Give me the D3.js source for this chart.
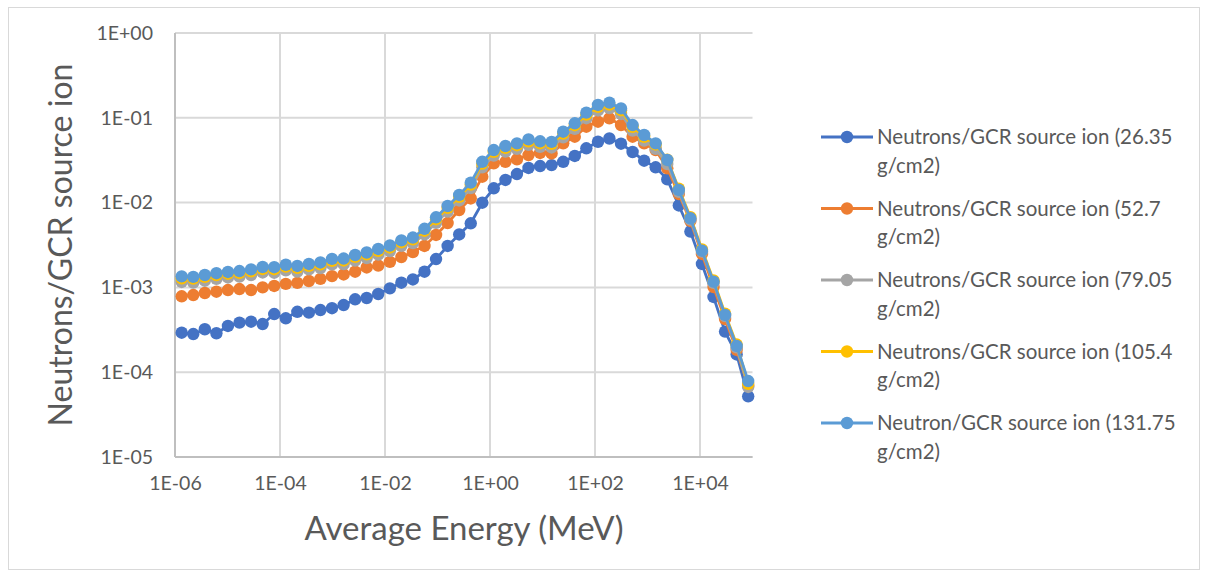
<!DOCTYPE html>
<html>
<head>
<meta charset="utf-8">
<script src="https://cdn.jsdelivr.net/npm/d3@7"></script>
<style>
  body { margin: 0; background: #fff; }
  text { font-family: Lato, "Open Sans", sans-serif; fill: #595959; }
</style>
</head>
<body>
<svg id="chart" width="1209" height="578"></svg>
<script>
// average energy of each bin (MeV)
var energy = [1.34e-6, 2.23e-6, 3.70e-6, 6.15e-6, 1.02e-5, 1.69e-5, 2.81e-5, 4.67e-5, 7.76e-5, 1.29e-4,
              2.14e-4, 3.55e-4, 5.89e-4, 9.79e-4, 1.63e-3, 2.70e-3, 4.48e-3, 7.44e-3, 1.24e-2, 2.05e-2,
              3.40e-2, 5.65e-2, 9.38e-2, 0.156, 0.259, 0.430, 0.713, 1.18, 1.97, 3.26,
              5.42, 9.00, 14.9, 24.8, 41.2, 68.4, 114, 188, 313, 520,
              863, 1430, 2380, 3950, 6560, 10900, 18100, 30000, 49900, 82800];

var n26 = [2.92e-4, 2.82e-4, 3.21e-4, 2.88e-4, 3.51e-4, 3.84e-4, 3.94e-4, 3.70e-4, 4.85e-4, 4.32e-4,
           5.16e-4, 5.04e-4, 5.41e-4, 5.68e-4, 6.19e-4, 7.24e-4, 7.50e-4, 8.36e-4, 9.75e-4, 1.135e-3,
           1.24e-3, 1.53e-3, 2.16e-3, 3.08e-3, 4.21e-3, 5.70e-3, 9.97e-3, 1.476e-2, 1.85e-2, 2.17e-2,
           2.56e-2, 2.70e-2, 2.77e-2, 3.03e-2, 3.55e-2, 4.37e-2, 5.22e-2, 5.70e-2, 4.95e-2, 3.95e-2,
           3.12e-2, 2.61e-2, 1.88e-2, 9.25e-3, 4.56e-3, 1.89e-3, 7.71e-4, 3.01e-4, 1.62e-4, 5.20e-5];

var n52 = [7.85e-4, 8.13e-4, 8.59e-4, 8.89e-4, 9.31e-4, 9.57e-4, 9.31e-4, 1.00e-3, 1.04e-3, 1.10e-3,
           1.13e-3, 1.19e-3, 1.26e-3, 1.36e-3, 1.42e-3, 1.53e-3, 1.72e-3, 1.81e-3, 2.00e-3, 2.28e-3,
           2.61e-3, 3.08e-3, 4.15e-3, 5.74e-3, 8.18e-3, 1.12e-2, 2.02e-2, 2.90e-2, 3.03e-2, 3.24e-2,
           3.64e-2, 3.85e-2, 3.80e-2, 5.00e-2, 5.98e-2, 7.85e-2, 9.00e-2, 9.86e-2, 8.22e-2, 5.98e-2,
           5.00e-2, 4.17e-2, 2.54e-2, 1.26e-2, 6.07e-3, 2.48e-3, 1.01e-3, 4.24e-4, 1.83e-4, 6.87e-5];

var n79 = [1.16e-3, 1.14e-3, 1.20e-3, 1.26e-3, 1.31e-3, 1.34e-3, 1.40e-3, 1.50e-3, 1.49e-3, 1.59e-3,
           1.54e-3, 1.63e-3, 1.69e-3, 1.87e-3, 1.88e-3, 2.07e-3, 2.22e-3, 2.44e-3, 2.68e-3, 3.09e-3,
           3.33e-3, 4.22e-3, 5.77e-3, 7.84e-3, 1.06e-2, 1.48e-2, 2.61e-2, 3.59e-2, 4.00e-2, 4.30e-2,
           4.79e-2, 4.54e-2, 4.47e-2, 5.89e-2, 7.40e-2, 9.89e-2, 0.122, 0.130, 0.111, 7.07e-2,
           5.39e-2, 4.30e-2, 2.85e-2, 1.34e-2, 6.30e-3, 2.65e-3, 1.13e-3, 4.60e-4, 1.96e-4, 6.7e-5];

var n105 = [1.28e-3, 1.27e-3, 1.33e-3, 1.40e-3, 1.45e-3, 1.48e-3, 1.55e-3, 1.65e-3, 1.64e-3, 1.76e-3,
            1.70e-3, 1.80e-3, 1.87e-3, 2.06e-3, 2.08e-3, 2.29e-3, 2.45e-3, 2.70e-3, 2.96e-3, 3.41e-3,
            3.68e-3, 4.66e-3, 6.37e-3, 8.66e-3, 1.17e-2, 1.63e-2, 2.88e-2, 3.96e-2, 4.42e-2, 4.75e-2,
            5.29e-2, 5.02e-2, 4.94e-2, 6.51e-2, 8.18e-2, 0.109, 0.135, 0.143, 0.123, 7.81e-2,
            5.96e-2, 4.85e-2, 3.20e-2, 1.46e-2, 6.75e-3, 2.80e-3, 1.21e-3, 4.90e-4, 2.12e-4, 7.3e-5];

var n131 = [1.35e-3, 1.33e-3, 1.40e-3, 1.47e-3, 1.52e-3, 1.56e-3, 1.63e-3, 1.74e-3, 1.73e-3, 1.85e-3,
            1.79e-3, 1.89e-3, 1.97e-3, 2.17e-3, 2.19e-3, 2.41e-3, 2.58e-3, 2.84e-3, 3.12e-3, 3.59e-3,
            3.87e-3, 4.91e-3, 6.71e-3, 9.12e-3, 1.23e-2, 1.72e-2, 3.03e-2, 4.17e-2, 4.65e-2, 5.00e-2,
            5.57e-2, 5.28e-2, 5.20e-2, 6.85e-2, 8.61e-2, 0.115, 0.1416, 0.151, 0.129, 8.22e-2,
            6.27e-2, 5.00e-2, 3.18e-2, 1.41e-2, 6.53e-3, 2.71e-3, 1.17e-3, 4.73e-4, 2.04e-4, 7.87e-5];

var seriesNames = ["Neutrons/GCR source ion (26.35 g/cm2)",
                   "Neutrons/GCR source ion (52.7 g/cm2)",
                   "Neutrons/GCR source ion (79.05 g/cm2)",
                   "Neutrons/GCR source ion (105.4 g/cm2)",
                   "Neutron/GCR source ion (131.75 g/cm2)"];
var seriesValues = [n26, n52, n79, n105, n131];
var seriesColors = ["#4472C4", "#ED7D31", "#A5A5A5", "#FFC000", "#5B9BD5"];

var xTicks = [1e-6, 1e-4, 1e-2, 1, 1e2, 1e4];
var xTickLabels = ["1E-06", "1E-04", "1E-02", "1E+00", "1E+02", "1E+04"];
var yTicks = [1e-5, 1e-4, 1e-3, 1e-2, 1e-1, 1];
var yTickLabels = ["1E-05", "1E-04", "1E-03", "1E-02", "1E-01", "1E+00"];

var svg = d3.select("#chart");

// chart frame
svg.append("rect")
    .attr("x", 8.5).attr("y", 7.5)
    .attr("width", 1191).attr("height", 562)
    .attr("fill", "#fff")
    .attr("stroke", "#d9d9d9")
    .attr("stroke-width", 1);

var plot = {left: 175, right: 752.5, top: 33, bottom: 457};

var x = d3.scaleLog().domain([1e-6, 1e5]).range([plot.left, plot.right]);
var y = d3.scaleLog().domain([1e-5, 1]).range([plot.bottom, plot.top]);

// gridlines
svg.append("g")
    .selectAll("line")
    .data(yTicks)
    .enter().append("line")
    .attr("x1", plot.left).attr("x2", plot.right)
    .attr("y1", function(d) { return y(d); })
    .attr("y2", function(d) { return y(d); })
    .attr("stroke", "#d9d9d9")
    .attr("stroke-width", 2);

svg.append("g")
    .selectAll("line")
    .data(xTicks.slice(1))
    .enter().append("line")
    .attr("x1", function(d) { return x(d); })
    .attr("x2", function(d) { return x(d); })
    .attr("y1", plot.top).attr("y2", plot.bottom)
    .attr("stroke", "#d9d9d9")
    .attr("stroke-width", 2);

// axes
var xAxis = d3.axisBottom(x)
    .tickValues(xTicks)
    .tickFormat(function(d, i) { return xTickLabels[i]; })
    .tickSize(0)
    .tickPadding(19);

var yAxis = d3.axisLeft(y)
    .tickValues(yTicks)
    .tickFormat(function(d, i) { return yTickLabels[i]; })
    .tickSize(0)
    .tickPadding(22);

var gx = svg.append("g")
    .attr("transform", "translate(0," + plot.bottom + ")")
    .call(xAxis);
var gy = svg.append("g")
    .attr("transform", "translate(" + plot.left + ",0)")
    .call(yAxis);

[gx, gy].forEach(function(g) {
    g.select(".domain").attr("stroke", "#bfbfbf").attr("stroke-width", 2);
    g.selectAll("text")
        .attr("fill", "#595959")
        .style("font-size", "19.5px");
});
gx.select(".domain").attr("d", "M" + plot.left + ",0H" + plot.right);
gy.select(".domain").attr("d", "M0," + plot.top + "V" + plot.bottom);

// axis titles
svg.append("text")
    .attr("x", 464).attr("y", 540)
    .attr("text-anchor", "middle")
    .style("font-size", "33px")
    .text("Average Energy (MeV)");

svg.append("text")
    .attr("transform", "translate(72,245) rotate(-90)")
    .attr("text-anchor", "middle")
    .style("font-size", "32px")
    .text("Neutrons/GCR source ion");

// series
var line = d3.line()
    .x(function(d) { return x(d[0]); })
    .y(function(d) { return y(d[1]); });

seriesValues.forEach(function(vals, s) {
    var pts = energy.map(function(e, i) { return [e, vals[i]]; });
    var g = svg.append("g");
    g.append("path")
        .datum(pts)
        .attr("d", line)
        .attr("fill", "none")
        .attr("stroke", seriesColors[s])
        .attr("stroke-width", 2.8);
    g.selectAll("circle")
        .data(pts)
        .enter().append("circle")
        .attr("cx", function(d) { return x(d[0]); })
        .attr("cy", function(d) { return y(d[1]); })
        .attr("r", 6.2)
        .attr("fill", seriesColors[s]);
});

// legend
var legend = svg.append("g").attr("transform", "translate(821,137)");
var item = legend.selectAll("g")
    .data(seriesNames)
    .enter().append("g")
    .attr("transform", function(d, i) { return "translate(0," + (i * 71.5) + ")"; });

item.append("line")
    .attr("x1", 0).attr("x2", 52)
    .attr("stroke", function(d, i) { return seriesColors[i]; })
    .attr("stroke-width", 2.8);
item.append("circle")
    .attr("cx", 26).attr("r", 6.2)
    .attr("fill", function(d, i) { return seriesColors[i]; });

var label = item.append("text")
    .style("font-size", "20.5px");
label.append("tspan")
    .attr("x", 56).attr("dy", "0.35em")
    .text(function(d) { return d.slice(0, d.lastIndexOf(" ")); });
label.append("tspan")
    .attr("x", 56).attr("dy", 28.7)
    .text(function(d) { return d.slice(d.lastIndexOf(" ") + 1); });
</script>
</body>
</html>
